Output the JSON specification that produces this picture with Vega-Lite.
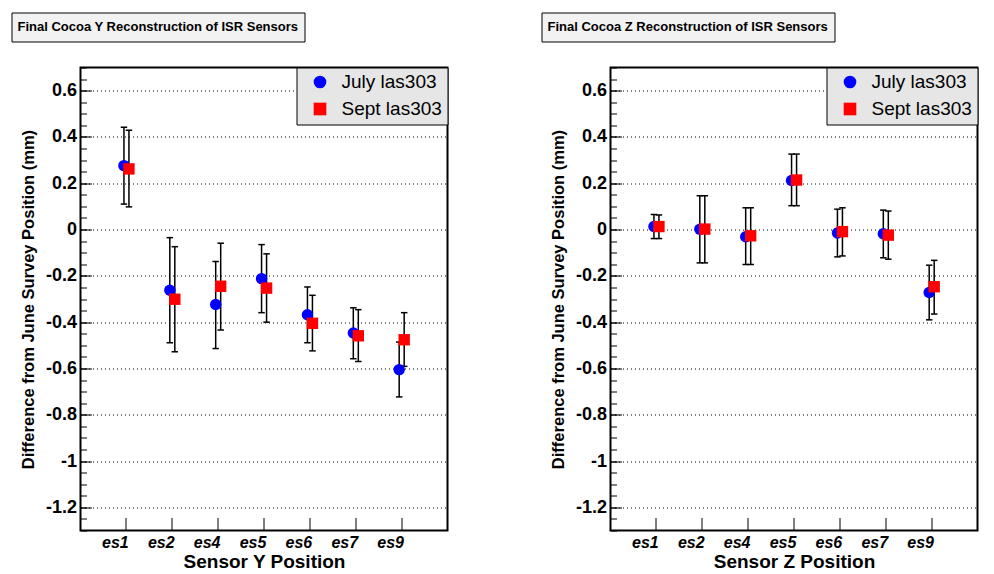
{
  "$schema": "https://vega.github.io/schema/vega-lite/v6.json",
  "padding": {"top": 10.5, "left": 9.5, "right": 5, "bottom": 2},
  "datasets": {
    "y_recon": [
      {"sensor": "es1", "series": "July las303", "value": 0.276, "lo": 0.110, "hi": 0.442},
      {"sensor": "es2", "series": "July las303", "value": -0.262, "lo": -0.489, "hi": -0.035},
      {"sensor": "es4", "series": "July las303", "value": -0.324, "lo": -0.514, "hi": -0.138},
      {"sensor": "es5", "series": "July las303", "value": -0.212, "lo": -0.359, "hi": -0.065},
      {"sensor": "es6", "series": "July las303", "value": -0.368, "lo": -0.489, "hi": -0.248},
      {"sensor": "es7", "series": "July las303", "value": -0.447, "lo": -0.558, "hi": -0.338},
      {"sensor": "es9", "series": "July las303", "value": -0.605, "lo": -0.723, "hi": -0.486},
      {"sensor": "es1", "series": "Sept las303", "value": 0.262, "lo": 0.098, "hi": 0.429},
      {"sensor": "es2", "series": "Sept las303", "value": -0.301, "lo": -0.528, "hi": -0.074},
      {"sensor": "es4", "series": "Sept las303", "value": -0.245, "lo": -0.434, "hi": -0.059},
      {"sensor": "es5", "series": "Sept las303", "value": -0.253, "lo": -0.400, "hi": -0.105},
      {"sensor": "es6", "series": "Sept las303", "value": -0.405, "lo": -0.524, "hi": -0.284},
      {"sensor": "es7", "series": "Sept las303", "value": -0.459, "lo": -0.570, "hi": -0.346},
      {"sensor": "es9", "series": "Sept las303", "value": -0.476, "lo": -0.591, "hi": -0.359}
    ],
    "z_recon": [
      {"sensor": "es1", "series": "July las303", "value": 0.013, "lo": -0.039, "hi": 0.065},
      {"sensor": "es2", "series": "July las303", "value": 0.001, "lo": -0.144, "hi": 0.146},
      {"sensor": "es4", "series": "July las303", "value": -0.031, "lo": -0.151, "hi": 0.094},
      {"sensor": "es5", "series": "July las303", "value": 0.212, "lo": 0.103, "hi": 0.326},
      {"sensor": "es6", "series": "July las303", "value": -0.015, "lo": -0.118, "hi": 0.088},
      {"sensor": "es7", "series": "July las303", "value": -0.018, "lo": -0.122, "hi": 0.084},
      {"sensor": "es9", "series": "July las303", "value": -0.272, "lo": -0.390, "hi": -0.154},
      {"sensor": "es1", "series": "Sept las303", "value": 0.013, "lo": -0.039, "hi": 0.063},
      {"sensor": "es2", "series": "Sept las303", "value": 0.002, "lo": -0.144, "hi": 0.146},
      {"sensor": "es4", "series": "Sept las303", "value": -0.027, "lo": -0.151, "hi": 0.094},
      {"sensor": "es5", "series": "Sept las303", "value": 0.214, "lo": 0.103, "hi": 0.326},
      {"sensor": "es6", "series": "Sept las303", "value": -0.009, "lo": -0.114, "hi": 0.094},
      {"sensor": "es7", "series": "Sept las303", "value": -0.024, "lo": -0.128, "hi": 0.080},
      {"sensor": "es9", "series": "Sept las303", "value": -0.247, "lo": -0.365, "hi": -0.133}
    ]
  },
  "spacing": 90,
  "resolve": {
    "scale": {"strokeDash": "independent"},
    "legend": {"color": "independent", "shape": "independent", "strokeDash": "independent"}
  },
  "hconcat": [
    {
      "width": 367,
      "height": 463,
      "view": {"fill": "white", "stroke": "black", "strokeWidth": 2},
      "data": {"name": "y_recon"},
      "encoding": {
        "x": {
          "field": "sensor", "type": "nominal",
          "sort": ["es1", "es2", "es4", "es5", "es6", "es7", "es9"],
          "scale": {"type": "band", "paddingInner": 0, "paddingOuter": 0.5},
          "axis": {
            "title": "Sensor Y Position", "titleFontSize": 19, "titleFontWeight": "bold", "titlePadding": 2,
            "labelAngle": 0, "labelFontSize": 16, "labelFontWeight": "bold", "labelFontStyle": "italic",
            "labelPadding": 17, "labelOffset": -11, "tickSize": -13, "tickWidth": 1, "bandPosition": 0.5,
            "domain": false, "grid": false
          }
        },
        "xOffset": {"field": "series", "type": "nominal", "scale": {"range": [18, 28]}}
      },
      "layer": [
        {
          "mark": {"type": "rule", "color": "black", "strokeWidth": 1.5},
          "encoding": {
            "y": {
              "field": "lo", "type": "quantitative",
              "scale": {"domain": [-1.3, 0.7], "nice": false, "zero": false},
              "axis": {
                "orient": "left", "title": null, "labels": false, "grid": false, "domain": false,
                "tickSize": -6, "tickWidth": 1,
                "values": [-1.3, -1.25, -1.2, -1.15, -1.1, -1.05, -1, -0.95, -0.9, -0.85, -0.8, -0.75, -0.7, -0.65, -0.6, -0.55, -0.5, -0.45, -0.4, -0.35, -0.3, -0.25, -0.2, -0.15, -0.1, -0.05, 0, 0.05, 0.1, 0.15, 0.2, 0.25, 0.3, 0.35, 0.4, 0.45, 0.5, 0.55, 0.6, 0.65, 0.7]
              }
            },
            "y2": {"field": "hi"},
            "strokeDash": {
              "datum": "Final Cocoa Y Reconstruction of ISR Sensors", "type": "nominal", "title": null,
              "scale": {"range": [[1, 0]]},
              "legend": {
                "orient": "none", "legendX": -69, "legendY": -55,
                "fillColor": "#f2f2f2", "strokeColor": "black", "padding": 6,
                "labelFont": "Liberation Sans", "labelFontWeight": "bold", "labelFontSize": 13, "labelColor": "black", "labelLimit": 400,
                "symbolType": "M0,-1L0,1", "symbolSize": 289, "symbolOpacity": 0, "symbolStrokeWidth": 0,
                "symbolOffset": 0, "labelOffset": -17
              }
            }
          }
        },
        {
          "mark": {"type": "point", "shape": "M-1,0L1,0", "size": 42, "filled": false, "stroke": "black", "strokeWidth": 1.5, "opacity": 1},
          "encoding": {"y": {"field": "lo", "type": "quantitative", "axis": null}}
        },
        {
          "mark": {"type": "point", "shape": "M-1,0L1,0", "size": 42, "filled": false, "stroke": "black", "strokeWidth": 1.5, "opacity": 1},
          "encoding": {"y": {"field": "hi", "type": "quantitative", "axis": null}}
        },
        {
          "mark": {"type": "point", "filled": true, "size": 130, "opacity": 1},
          "encoding": {
            "y": {
              "field": "value", "type": "quantitative",
              "axis": {
                "orient": "left",
                "values": [-1.2, -1, -0.8, -0.6, -0.4, -0.2, 0, 0.2, 0.4, 0.6],
                "labelExpr": "'' + datum.value",
                "labelFontSize": 18, "labelFontWeight": "bold", "labelPadding": 15,
                "tickSize": -11, "tickWidth": 1,
                "grid": true, "gridColor": "black", "gridDash": [1, 3], "gridWidth": 1, "gridOpacity": 1,
                "domain": false,
                "title": "Difference from June Survey Position (mm)",
                "titleFontSize": 16.5, "titleFontWeight": "bold", "titlePadding": 8.5
              }
            },
            "color": {
              "field": "series", "type": "nominal", "title": null,
              "scale": {"domain": ["July las303", "Sept las303"], "range": ["#0000ff", "#ff0000"]}
            },
            "shape": {
              "field": "series", "type": "nominal", "title": null,
              "scale": {"domain": ["July las303", "Sept las303"], "range": ["circle", "square"]}
            }
          }
        }
      ],
      "resolve": {"axis": {"y": "independent"}}
    },
    {
      "width": 367,
      "height": 463,
      "view": {"fill": "white", "stroke": "black", "strokeWidth": 2},
      "data": {"name": "z_recon"},
      "encoding": {
        "x": {
          "field": "sensor", "type": "nominal",
          "sort": ["es1", "es2", "es4", "es5", "es6", "es7", "es9"],
          "scale": {"type": "band", "paddingInner": 0, "paddingOuter": 0.5},
          "axis": {
            "title": "Sensor Z Position", "titleFontSize": 19, "titleFontWeight": "bold", "titlePadding": 2,
            "labelAngle": 0, "labelFontSize": 16, "labelFontWeight": "bold", "labelFontStyle": "italic",
            "labelPadding": 17, "labelOffset": -11, "tickSize": -13, "tickWidth": 1, "bandPosition": 0.5,
            "domain": false, "grid": false
          }
        },
        "xOffset": {"field": "series", "type": "nominal", "scale": {"range": [18, 28]}}
      },
      "layer": [
        {
          "mark": {"type": "rule", "color": "black", "strokeWidth": 1.5},
          "encoding": {
            "y": {
              "field": "lo", "type": "quantitative",
              "scale": {"domain": [-1.3, 0.7], "nice": false, "zero": false},
              "axis": {
                "orient": "left", "title": null, "labels": false, "grid": false, "domain": false,
                "tickSize": -6, "tickWidth": 1,
                "values": [-1.3, -1.25, -1.2, -1.15, -1.1, -1.05, -1, -0.95, -0.9, -0.85, -0.8, -0.75, -0.7, -0.65, -0.6, -0.55, -0.5, -0.45, -0.4, -0.35, -0.3, -0.25, -0.2, -0.15, -0.1, -0.05, 0, 0.05, 0.1, 0.15, 0.2, 0.25, 0.3, 0.35, 0.4, 0.45, 0.5, 0.55, 0.6, 0.65, 0.7]
              }
            },
            "y2": {"field": "hi"},
            "strokeDash": {
              "datum": "Final Cocoa Z Reconstruction of ISR Sensors", "type": "nominal", "title": null,
              "scale": {"range": [[1, 0]]},
              "legend": {
                "orient": "none", "legendX": -69, "legendY": -55,
                "fillColor": "#f2f2f2", "strokeColor": "black", "padding": 6,
                "labelFont": "Liberation Sans", "labelFontWeight": "bold", "labelFontSize": 13, "labelColor": "black", "labelLimit": 400,
                "symbolType": "M0,-1L0,1", "symbolSize": 289, "symbolOpacity": 0, "symbolStrokeWidth": 0,
                "symbolOffset": 0, "labelOffset": -17
              }
            }
          }
        },
        {
          "mark": {"type": "point", "shape": "M-1,0L1,0", "size": 42, "filled": false, "stroke": "black", "strokeWidth": 1.5, "opacity": 1},
          "encoding": {"y": {"field": "lo", "type": "quantitative", "axis": null}}
        },
        {
          "mark": {"type": "point", "shape": "M-1,0L1,0", "size": 42, "filled": false, "stroke": "black", "strokeWidth": 1.5, "opacity": 1},
          "encoding": {"y": {"field": "hi", "type": "quantitative", "axis": null}}
        },
        {
          "mark": {"type": "point", "filled": true, "size": 130, "opacity": 1},
          "encoding": {
            "y": {
              "field": "value", "type": "quantitative",
              "axis": {
                "orient": "left",
                "values": [-1.2, -1, -0.8, -0.6, -0.4, -0.2, 0, 0.2, 0.4, 0.6],
                "labelExpr": "'' + datum.value",
                "labelFontSize": 18, "labelFontWeight": "bold", "labelPadding": 15,
                "tickSize": -11, "tickWidth": 1,
                "grid": true, "gridColor": "black", "gridDash": [1, 3], "gridWidth": 1, "gridOpacity": 1,
                "domain": false,
                "title": "Difference from June Survey Position (mm)",
                "titleFontSize": 16.5, "titleFontWeight": "bold", "titlePadding": 8.5
              }
            },
            "color": {
              "field": "series", "type": "nominal", "title": null,
              "scale": {"domain": ["July las303", "Sept las303"], "range": ["#0000ff", "#ff0000"]}
            },
            "shape": {
              "field": "series", "type": "nominal", "title": null,
              "scale": {"domain": ["July las303", "Sept las303"], "range": ["circle", "square"]}
            }
          }
        }
      ],
      "resolve": {"axis": {"y": "independent"}}
    }
  ],
  "config": {
    "font": "Liberation Sans",
    "axis": {"labelFont": "Liberation Sans", "titleFont": "Liberation Sans", "labelColor": "black", "titleColor": "black", "tickColor": "black"},
    "legend": {
      "orient": "top-right", "offset": 0, "fillColor": "#e6e6e6", "strokeColor": "black",
      "padding": 5, "labelFont": "Liberation Sans", "labelFontSize": 19, "labelColor": "black",
      "symbolSize": 160, "symbolOffset": 9, "labelOffset": 12, "rowPadding": 7, "symbolStrokeWidth": 0
    }
  }
}
